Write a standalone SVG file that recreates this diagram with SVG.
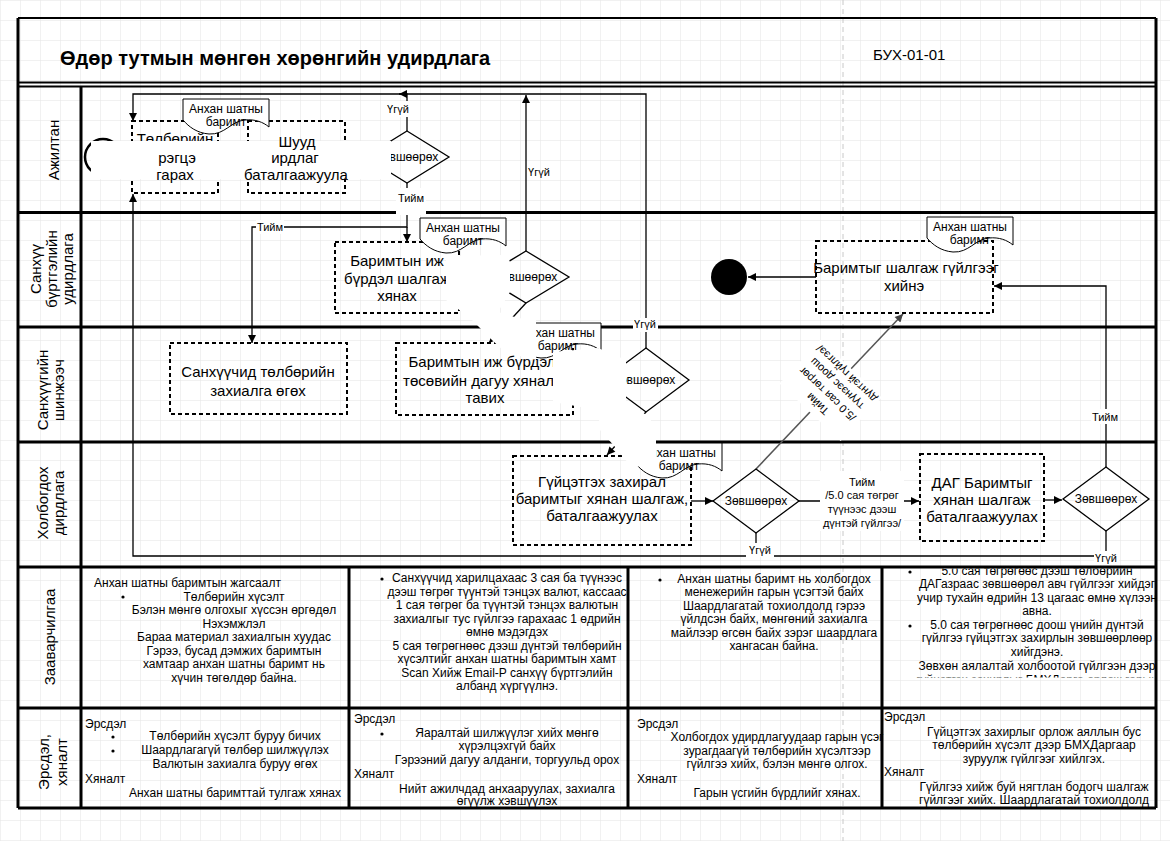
<svg xmlns="http://www.w3.org/2000/svg" width="1170" height="841" viewBox="0 0 1170 841">
<defs>
<pattern id="grid" width="20" height="20" patternUnits="userSpaceOnUse">
<path d="M20 0H0V20" fill="none" stroke="#e3e3e3" stroke-width="1"/>
</pattern>
<marker id="ah" viewBox="0 0 10 10" refX="10" refY="5" markerWidth="9" markerHeight="8" markerUnits="userSpaceOnUse" orient="auto"><path d="M0,0L10,5L0,10Z" fill="#000"/></marker>
<marker id="ahg" viewBox="0 0 10 10" refX="10" refY="5" markerWidth="9" markerHeight="8" markerUnits="userSpaceOnUse" orient="auto"><path d="M0,0L10,5L0,10Z" fill="#444"/></marker>
<path id="doc" d="M0,0H86V28C80,23 72,20 62,21C48,22 42,36 26,35C14,34 6,28 0,21Z"/>
<clipPath id="clip4"><rect x="884" y="568.5" width="272" height="109"/></clipPath>
</defs>
<style>
text{font-family:"Liberation Sans",Arial,sans-serif;fill:#000}
.ln{stroke:#000;stroke-width:3;fill:none}
.ln2{stroke:#000;stroke-width:2;fill:none}
.box{fill:none;stroke:#000;stroke-width:2;stroke-dasharray:4 3}
.dia{fill:none;stroke:#000;stroke-width:1.3}
.docs{fill:#fff;stroke:#000;stroke-width:1}
.c{fill:none;stroke:#000;stroke-width:1.3}
.cg{fill:none;stroke:#555;stroke-width:1.5}
.wh{fill:#fff}
.t15{font-size:15px;text-anchor:middle}
.t12{font-size:12px;text-anchor:middle}
.t11{font-size:11px;text-anchor:middle}
.lbl{font-size:15px;text-anchor:middle}
.note{font-size:12px;text-anchor:middle}
.notel{font-size:12px}
</style>
<rect width="1170" height="841" fill="#fff"/>
<rect width="1170" height="841" fill="url(#grid)"/>
<line x1="843" y1="0" x2="843" y2="841" stroke="#c8c8c8" stroke-width="1" stroke-dasharray="5 4"/>

<g id="header">
<text x="60" y="65" font-size="20" font-weight="bold">Өдөр тутмын мөнгөн хөрөнгийн удирдлага</text>
<text x="873" y="60" font-size="15">БУХ-01-01</text>
</g>

<g id="frame">
<path class="ln2" d="M18,18H1156M18,82.5H1156M18,86.5H1156"/>
<path class="ln" d="M18,18V808M1156,18V808M81,86V808M18,212.5H1156M18,327H1156M18,442H1156M18,567H1156M18,708H1156M18,808H1156M349,567V808M628,567V808M882,567V808"/>
</g>

<g id="lane-labels">
<text class="lbl" transform="translate(53,150) rotate(-90)" y="5.5">Ажилтан</text>
<text class="lbl" transform="translate(35,269) rotate(-90)"><tspan x="0" y="5.5">Санхүү</tspan><tspan x="0" y="21.5">бүртгэлийн</tspan><tspan x="0" y="37.5">удирдлага</tspan></text>
<text class="lbl" transform="translate(42,390) rotate(-90)"><tspan x="0" y="5.5">Санхүүгийн</tspan><tspan x="0" y="22">шинжээч</tspan></text>
<text class="lbl" transform="translate(42,503) rotate(-90)"><tspan x="0" y="5.5">Холбогдох</tspan><tspan x="0" y="22">дирдлага</tspan></text>
<text class="lbl" transform="translate(49,637) rotate(-90)" y="5.5">Зааварчилгаа</text>
<text class="lbl" transform="translate(43,762) rotate(-90)"><tspan x="0" y="5.5">Эрсдэл,</tspan><tspan x="0" y="24">хяналт</tspan></text>
</g>

<g id="connectors">
<path class="c" d="M407,131V94H133V121" marker-end="url(#ah)"/>
<path class="c" d="M646,348V94H399" marker-end="url(#ah)"/>
<path class="c" d="M526,251V95" marker-end="url(#ah)"/>
<path class="c" d="M407,183V227H252V343" marker-end="url(#ah)"/>
<path class="c" d="M407,227V242" marker-end="url(#ah)"/>
<path class="c" d="M526,303L489,343" marker-end="url(#ah)"/>
<path class="c" d="M646,412L607,455" marker-end="url(#ah)"/>
<path class="c" d="M691,501H713" marker-end="url(#ah)"/>
<path class="c" d="M799,501H919" marker-end="url(#ah)"/>
<path class="c" d="M1044,500H1062" marker-end="url(#ah)"/>
<path class="c" d="M1106,467V286H994" marker-end="url(#ah)"/>
<path class="cg" d="M756,469L903,314" marker-end="url(#ahg)"/>
<path class="c" d="M1106,531V556H133V194" marker-end="url(#ah)"/>
<path class="c" d="M756,533V556"/>
<path class="c" d="M816,277H748" marker-end="url(#ah)"/>
<path class="c" d="M459,277H482M573,380H602"/>
<rect class="wh" x="386" y="101" width="24" height="16"/>
<text class="t11" x="398" y="113">Үгүй</text>
<rect class="wh" x="396" y="188" width="30" height="27"/>
<text class="t11" x="411" y="202">Тийм</text>
<rect class="wh" x="256" y="220" width="28" height="14"/>
<text class="t11" x="270" y="231">Тийм</text>
<text class="t11" x="539" y="176">Үгүй</text>
<rect class="wh" x="633" y="318" width="25" height="14"/>
<text class="t11" x="645" y="328">Үгүй</text>
<rect class="wh" x="1091" y="409" width="28" height="15"/>
<text class="t11" x="1105" y="421">Тийм</text>
<rect class="wh" x="746" y="543" width="28" height="14"/>
<text class="t11" x="760" y="554">Үгүй</text>
<rect class="wh" x="1094" y="551" width="25" height="14"/>
<text class="t11" x="1106" y="562">Үгүй</text>
<rect class="wh" x="820" y="471" width="84" height="60"/>
<text class="t11"><tspan x="862" y="486">Тийм</tspan><tspan x="862" y="499">/5.0 сая төгрөг</tspan><tspan x="862" y="513">түүнээс дээш</tspan><tspan x="862" y="527">дүнтэй гүйлгээ/</tspan></text>
<g transform="translate(832,389) rotate(-136.7)">
<rect class="wh" x="-42" y="-32" width="84" height="60"/>
<text class="t11"><tspan x="0" y="-17">Тийм</tspan><tspan x="0" y="-3">/5.0 сая төгрөг</tspan><tspan x="0" y="11">түүнээс доош</tspan><tspan x="0" y="25">дүнтэй гүйлгээ/</tspan></text>
</g>
</g>

<rect id="mask-lane1" class="wh" x="91" y="141" width="300" height="38" rx="6"/>

<g id="start">
<circle cx="103" cy="157" r="18" fill="none" stroke="#000" stroke-width="2.5"/>
<rect class="wh" x="91" y="141" width="40" height="38"/>
</g>

<g id="n-request">
<rect class="box" x="132" y="121" width="86" height="72"/>
<text class="t15" x="175" y="144">Төлбөрийн</text>
<rect class="wh" x="130" y="141" width="90" height="38"/>
<text class="t15" x="177" y="163">рэгцэ</text>
<text class="t15" x="175" y="180">гарах</text>
</g>

<g id="n-approve-mgr">
<rect class="box" x="248" y="121" width="97" height="72"/>
<rect class="wh" x="246" y="141" width="101" height="38"/>
<text class="t15" x="297" y="147">Шууд</text>
<text class="t15" x="295" y="163">ирдлаг</text>
<text class="t15" x="296" y="180">баталгаажуула</text>
</g>

<g id="doc1">
<use href="#doc" x="183" y="99" class="docs"/>
<text class="t12"><tspan x="226" y="113">Анхан шатны</tspan><tspan x="226" y="126">баримт</tspan></text>
</g>

<g id="d1">
<polygon class="dia" points="407,131 449,157 407,183 365,157"/>
<text class="t12" x="407" y="161">Зөвшөөрөх</text>
<rect class="wh" x="363" y="141" width="28" height="38"/>
</g>

<g id="n-check-set">
<rect class="box" x="335" y="242" width="124" height="71"/>
<text class="t15"><tspan x="397" y="266">Баримтын иж</tspan><tspan x="397" y="284">бүрдэл шалгаж</tspan><tspan x="397" y="301">хянах</tspan></text>
</g>

<g id="doc2">
<use href="#doc" x="420" y="218" class="docs"/>
<text class="t12"><tspan x="463" y="232">Анхан шатны</tspan><tspan x="463" y="245">баримт</tspan></text>
</g>

<g id="d2">
<polygon class="dia" points="526,251 569,277 526,303 483,277"/>
<text class="t12" x="526" y="281">Зөвшөөрөх</text>
</g>

<g id="n-do-txn">
<rect class="box" x="816" y="241" width="177" height="72"/>
<text class="t15"><tspan x="906" y="273">Баримтыг шалгаж гүйлгээг</tspan><tspan x="904" y="291">хийнэ</tspan></text>
</g>

<g id="doc3">
<use href="#doc" x="927" y="217" class="docs"/>
<text class="t12"><tspan x="970" y="231">Анхан шатны</tspan><tspan x="970" y="244">баримт</tspan></text>
</g>

<g id="end">
<circle cx="729" cy="277" r="18" fill="#000"/>
</g>

<g id="n-order">
<rect class="box" x="170" y="343" width="177" height="71"/>
<text class="t15"><tspan x="258" y="377">Санхүүчид төлбөрийн</tspan><tspan x="258" y="396">захиалга өгөх</tspan></text>
</g>

<g id="n-budget">
<rect class="box" x="396" y="343" width="177" height="72"/>
<text class="t15"><tspan x="482" y="367">Баримтын иж бүрдэл</tspan><tspan x="482" y="386">төсөвийн дагуу хяналт</tspan><tspan x="485" y="403">тавих</tspan></text>
</g>

<g id="doc4">
<use href="#doc" x="515" y="323" class="docs"/>
<text class="t12"><tspan x="558" y="337">Анхан шатны</tspan><tspan x="558" y="350">баримт</tspan></text>
</g>

<g id="d3">
<polygon class="dia" points="646,348 689,380 646,412 603,380"/>
<text class="t12" x="644" y="384">Зөвшөөрөх</text>
</g>

<g id="n-ceo">
<rect class="box" x="513" y="456" width="178" height="89"/>
<text class="t15"><tspan x="602" y="487">Гүйцэтгэх захирал</tspan><tspan x="602" y="504">баримтыг хянан шалгаж,</tspan><tspan x="602" y="521">баталгаажуулах</tspan></text>
</g>

<g id="doc5">
<use href="#doc" x="636" y="443" class="docs"/>
<text class="t12"><tspan x="679" y="457">Анхан шатны</tspan><tspan x="679" y="470">баримт</tspan></text>
</g>

<g id="d4">
<polygon class="dia" points="756,469 799,501 756,533 713,501"/>
<text class="t12" x="756" y="505">Зөвшөөрөх</text>
</g>

<g id="n-dag">
<rect class="box" x="920" y="454" width="124" height="87"/>
<text class="t15"><tspan x="982" y="488">ДАГ Баримтыг</tspan><tspan x="982" y="505">хянан шалгаж</tspan><tspan x="982" y="522">баталгаажуулах</tspan></text>
</g>

<g id="d5">
<polygon class="dia" points="1106,467 1149,499 1106,531 1063,499"/>
<text class="t12" x="1106" y="503">Зөвшөөрөх</text>
</g>

<g id="masks">
<polygon class="wh" points="446,256 507,255 510,262 510,292 498,312 518,318 536,320 536,360 505,352 493,341 470,318 446,300"/>
<polygon class="wh" points="553,352 598,348 626,360 626,402 648,416 656,428 656,462 632,468 616,448 600,430 598,410 553,402"/>
</g>

<g id="notes">
<g id="note1">
<text class="notel" x="94" y="587">Анхан шатны баримтын жагсаалт</text>
<circle cx="123" cy="597" r="1.6"/>
<text class="note"><tspan x="234" y="601">Төлбөрийн хүсэлт</tspan><tspan x="234" y="614">Бэлэн мөнгө олгохыг хүссэн өргөдөл</tspan><tspan x="234" y="628">Нэхэмжлэл</tspan><tspan x="234" y="641">Бараа материал захиалгын хуудас</tspan><tspan x="234" y="655">Гэрээ, бусад дэмжих баримтын</tspan><tspan x="234" y="668">хамтаар анхан шатны баримт нь</tspan><tspan x="234" y="682">хүчин төгөлдөр байна.</tspan></text>
</g>
<g id="note2">
<circle cx="382" cy="579" r="1.6"/>
<text class="note"><tspan x="507" y="582">Санхүүчид харилцахаас 3 сая ба түүнээс</tspan><tspan x="507" y="596">дээш төгрөг түүнтэй тэнцэх валют, кассаас</tspan><tspan x="507" y="609">1 сая төгрөг ба түүнтэй тэнцэх валютын</tspan><tspan x="507" y="623">захиалгыг тус гүйлгээ гарахаас 1 өдрийн</tspan><tspan x="507" y="636">өмнө мэдэгдэх</tspan><tspan x="507" y="650">5 сая төгрөгнөөс дээш дүнтэй төлбөрийн</tspan><tspan x="507" y="663">хүсэлтийг анхан шатны баримтын хамт</tspan><tspan x="507" y="677">Scan Хийж Email-P санхүү бүртгэлийн</tspan><tspan x="507" y="690">албанд хүргүүлнэ.</tspan></text>
</g>
<g id="note3">
<circle cx="660" cy="580" r="1.6"/>
<text class="note"><tspan x="774" y="583">Анхан шатны баримт нь холбогдох</tspan><tspan x="774" y="596">менежерийн гарын үсэгтэй байх</tspan><tspan x="774" y="610">Шаардлагатай тохиолдолд гэрээ</tspan><tspan x="774" y="623">үйлдсэн байх, мөнгөний захиалга</tspan><tspan x="774" y="637">майлээр өгсөн байх зэрэг шаардлага</tspan><tspan x="774" y="650">хангасан байна.</tspan></text>
</g>
<g id="note4" clip-path="url(#clip4)">
<circle cx="910" cy="572" r="1.6"/>
<circle cx="910" cy="626" r="1.6"/>
<text class="note"><tspan x="1037" y="575">5.0 сая төгрөгөөс дээш төлбөрийн</tspan><tspan x="1037" y="588">ДАГазраас зөвшөөрөл авч гүйлгээг хийдэг</tspan><tspan x="1037" y="602">учир тухайн өдрийн 13 цагаас өмнө хүлээн</tspan><tspan x="1037" y="615">авна.</tspan><tspan x="1037" y="629">5.0 сая төгрөгнөөс доош үнийн дүнтэй</tspan><tspan x="1037" y="642">гүйлгээ гүйцэтгэх захирлын зөвшөөрлөөр</tspan><tspan x="1037" y="656">хийгдэнэ.</tspan><tspan x="1037" y="670">Зөвхөн аялалтай холбоотой гүйлгээн дээр</tspan><tspan x="1037" y="684">гүйцэтгэх захирлыг БМХДарга орлож гарын</tspan></text>
</g>
<g id="risk1">
<text class="notel" x="85" y="728">Эрсдэл</text>
<circle cx="113" cy="737" r="1.6"/>
<circle cx="113" cy="751" r="1.6"/>
<text class="note"><tspan x="235" y="740">Төлбөрийн хүсэлт буруу бичих</tspan><tspan x="235" y="754">Шаардлагагүй төлбөр шилжүүлэх</tspan><tspan x="235" y="768">Валютын захиалга буруу өгөх</tspan></text>
<text class="notel" x="85" y="783">Хяналт</text>
<text class="note" x="235" y="797">Анхан шатны баримттай тулгаж хянах</text>
</g>
<g id="risk2">
<text class="notel" x="354" y="723">Эрсдэл</text>
<circle cx="382" cy="734" r="1.6"/>
<text class="note"><tspan x="507" y="737">Яаралтай шилжүүлэг хийх мөнгө</tspan><tspan x="507" y="750">хүрэлцэхгүй байх</tspan><tspan x="507" y="764">Гэрээний дагуу алданги, торгуульд орох</tspan></text>
<text class="notel" x="354" y="778">Хяналт</text>
<text class="note"><tspan x="507" y="793">Нийт ажилчдад анхааруулах, захиалга</tspan><tspan x="507" y="805">өгүүлж хэвшүүлэх</tspan></text>
</g>
<g id="risk3">
<text class="notel" x="637" y="728">Эрсдэл</text>
<text class="note"><tspan x="777" y="741">Холбогдох удирдлагуудаар гарын үсэг</tspan><tspan x="777" y="755">зурагдаагүй төлбөрийн хүсэлтээр</tspan><tspan x="777" y="768">гүйлгээ хийх, бэлэн мөнгө олгох.</tspan></text>
<text class="notel" x="637" y="783">Хяналт</text>
<text class="note" x="777" y="797">Гарын үсгийн бүрдлийг хянах.</text>
</g>
<g id="risk4">
<text class="notel" x="884" y="721">Эрсдэл</text>
<text class="note"><tspan x="1034" y="736">Гүйцэтгэх захирлыг орлож аяллын бус</tspan><tspan x="1034" y="749">төлбөрийн хүсэлт дээр БМХДаргаар</tspan><tspan x="1034" y="763">зуруулж гүйлгээг хийлгэх.</tspan></text>
<text class="notel" x="884" y="776">Хяналт</text>
<text class="note"><tspan x="1034" y="791">Гүйлгээ хийж буй нягтлан бодогч шалгаж</tspan><tspan x="1034" y="804">гүйлгээг хийх. Шаардлагатай тохиолдолд</tspan></text>
</g>
</g>
</svg>
